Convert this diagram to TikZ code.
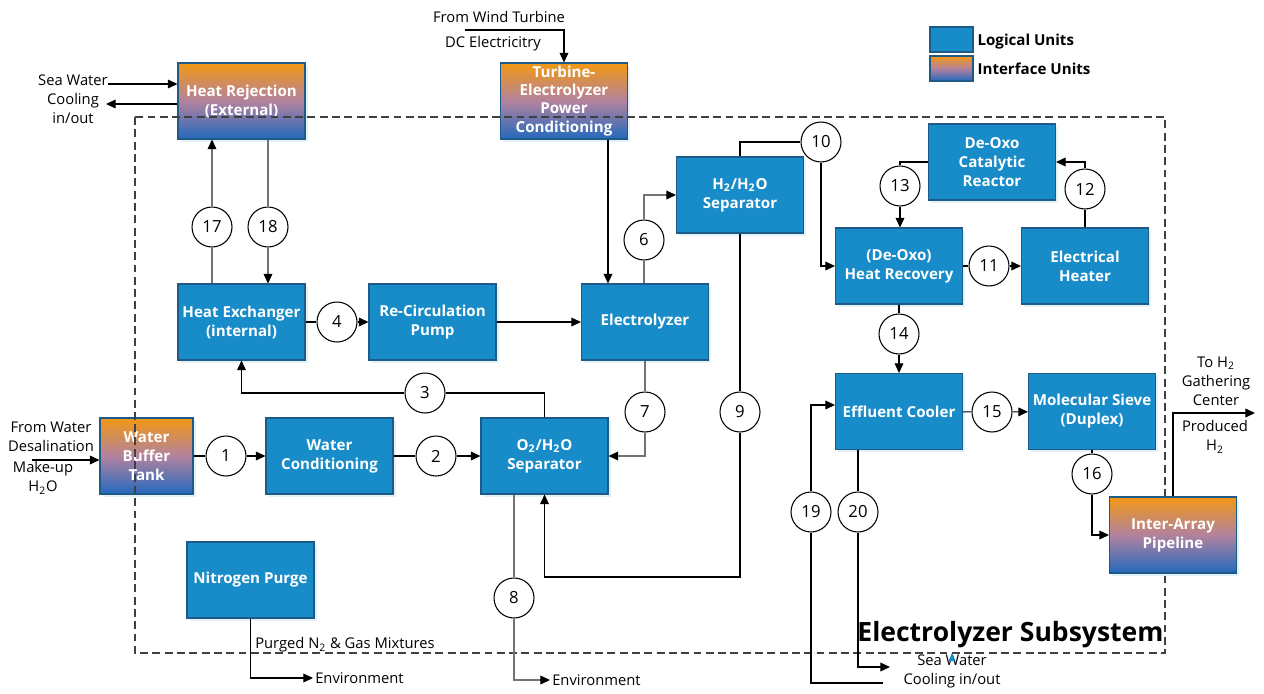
\documentclass[tikz,border=0pt]{standalone}
\usepackage{fontspec}
\setmainfont{Open Sans}
\usepackage{tikz}
\usetikzlibrary{calc, arrows.meta, positioning, shadows}
\usepackage{tkz-euclide}
\definecolor{unitblue}{RGB}{24,140,200}
\definecolor{unitedge}{RGB}{30,90,135}
\definecolor{ifaceorange}{RGB}{242,152,20}
\definecolor{ifacemauve}{RGB}{178,130,158}
\definecolor{ifaceblue}{RGB}{35,105,190}
\newcommand{\boxfont}{\fontsize{8.6}{10.8}\selectfont\bfseries}
\newcommand{\lblfont}{\fontsize{8.4}{10.8}\selectfont}
\newcommand{\numfont}{\fontsize{9.5}{11}\selectfont}
\newcommand{\titlefont}{\fontsize{15.1}{18}\selectfont\bfseries}

\begin{document}
\begin{tikzpicture}[x=0.02cm, y=-0.02cm, line width=0.6pt,
  unit/.style={draw=unitedge, fill=unitblue, text=white, font=\boxfont, align=center,
    minimum width=2.54cm, minimum height=1.52cm, inner sep=1pt,
    general shadow={fill=unitblue!12, draw=none, shadow xshift=1.5pt, shadow yshift=-1.5pt}},
  iface/.style={unit, top color=ifaceorange, bottom color=ifaceblue, middle color=ifacemauve},
  num/.style={circle, draw, fill=white, minimum size=0.8cm, inner sep=0pt, font=\numfont},
  lbl/.style={font=\lblfont, align=center, inner sep=1pt},
  arr/.style={-{Triangle[length=5.5pt,width=5pt,color=black]}},
  gline/.style={draw=black!55},
  subsys/.style={draw=black!75, dash pattern=on 4.5pt off 2.5pt}]
\useasboundingbox (0,0) rectangle (1264,693);

% units
\node[iface] (hrej) at (241.5,101) {Heat Rejection\\(External)};
\node[iface, inner ysep=0pt, font=\fontsize{8.6}{10.3}\selectfont\bfseries] (pcond) at (564,101) {Turbine-\\Electrolyzer\\Power\\Conditioning};
\node[unit] (h2sep) at (740,195) {H\textsubscript{2}/H\textsubscript{2}O\\Separator};
\node[unit] (deoxo) at (992,162) {De-Oxo\\Catalytic\\Reactor};
\node[unit] (hx) at (241.5,322) {Heat Exchanger\\(internal)};
\node[unit] (pump) at (432.5,322) {Re-Circulation\\Pump};
\node[unit] (elec) at (645,322) {Electrolyzer};
\node[iface, minimum width=1.86cm] (buffer) at (146.5,456) {Water\\Buffer\\Tank};
\node[unit] (wcond) at (329.5,456) {Water\\Conditioning};
\node[unit] (o2sep) at (544.5,456) {O\textsubscript{2}/H\textsubscript{2}O\\Separator};
\node[unit] (hrec) at (899,266) {(De-Oxo)\\Heat Recovery};
\node[unit] (heater) at (1085,266) {Electrical\\Heater};
\node[unit] (cooler) at (899,411.5) {Effluent Cooler};
\node[unit] (sieve) at (1092,411.5) {Molecular Sieve\\(Duplex)};
\node[unit] (n2) at (250.5,580) {Nitrogen Purge};

\draw[subsys] (135,117) rectangle (1165,653);
\node[iface] (pipe) at (1173,535) {Inter-Array\\Pipeline};
\node[font=\titlefont, anchor=base east, inner sep=0pt] (title) at (1164,641) {Electrolyzer Subsystem};

% legend
\node[draw=unitedge, fill=unitblue, minimum width=.86cm, minimum height=.5cm, inner sep=0pt] (keyunit) at (951.5,39.5) {};
\node[draw=unitedge, top color=ifaceorange, bottom color=ifaceblue, middle color=ifacemauve, minimum width=.86cm, minimum height=.5cm, inner sep=0pt] (keyiface) at (951.5,68.5) {};
\node[right=1pt of keyunit, yshift=-0.05cm, font=\boxfont, inner sep=1pt] {Logical Units};
\node[right=1pt of keyiface, font=\boxfont, inner sep=1pt] {Interface Units};

% stream numbers
\node[num] (c1) at (226,456) {1};
\node[num] (c2) at (436,456) {2};
\node[num] (c3) at (425,393) {3};
\node[num] (c4) at (337,322) {4};
\node[num] (c6) at (644,240) {6};
\node[num] (c7) at (645,412) {7};
\node[num] (c8) at (514,598) {8};
\node[num] (c9) at (740,412) {9};
\node[num] (c10) at (821,142) {10};
\node[num] (c11) at (989,266) {11};
\node[num] (c12) at (1085,189) {12};
\node[num] (c13) at (900,186) {13};
\node[num] (c14) at (899,334) {14};
\node[num] (c15) at (992,412) {15};
\node[num] (c16) at (1092,474) {16};
\node[num] (c17) at (212,227) {17};
\node[num] (c18) at (268,227) {18};
\node[num] (c19) at (811,512) {19};
\node[num] (c20) at (858,512) {20};

% outside labels
\node[lbl] (swhr) at (73,99) {Sea Water\\Cooling\\in/out};
\node[lbl] (wind) at (499,17) {From Wind Turbine};
\node[lbl] (dc) at (493,44) {DC Electricitry};
\node[lbl] (desal) at (51,437) {From Water\\Desalination};
\node[lbl] (makeup) at (43,478) {Make-up\\H\textsubscript{2}O};
\node[lbl, anchor=west] (env1) at (550,680) {Environment};
\node[lbl, anchor=west] (env2) at (313,678) {Environment};
\node[lbl, anchor=west] (purged) at (253,645) {Purged N\textsubscript{2} \& Gas Mixtures};
\node[lbl] (swec) at (952,671) {Sea Water\\Cooling in/out};
\node[lbl] (toh2) at (1216,381) {To H\textsubscript{2}\\Gathering\\Center};
\node[lbl] (prod) at (1215,437) {Produced\\H\textsubscript{2}};
\fill[unitblue] (948.5,661) -- (955.5,661) -- (952,653) -- cycle;

\tkzDefPoints{108/84/swIn, 106/104/swOut, 465/30/dcIn, 32/460/desIn, 740/577/ret9, 1255/413/h2Out, 883/683/sw19, 890/667/sw20}

% connectors
\draw[arr] (swIn) -- (swIn -| hrej.west);
\draw[arr] (hrej.west |- swOut) -- (swOut);
\draw[gline] (hx.north -| c17) -- (c17);
\draw[gline, arr] (c17) -- (c17 |- hrej.south);
\draw[gline] (hrej.south -| c18) -- (c18);
\draw[gline, arr] (c18) -- (c18 |- hx.north);
\draw (hx) -- (c4);
\draw[arr] (c4) -- (pump);
\draw[arr] (pump) -- (elec);
\draw[arr] (dcIn) -| (pcond.north);
\draw[arr] ([xshift=.88cm]pcond.south) -- ([xshift=.88cm]pcond.south |- elec.north);
\draw[gline] (elec.north -| c6) -- (c6);
\draw[gline, arr] (c6) |- (h2sep.west);
\draw (h2sep.north) |- (c10);
\draw[arr] (c10) |- (hrec.west);
\draw (h2sep.south) -- (c9);
\draw[arr] (c9) -- (ret9) -| (o2sep.south);
\draw[gline] (elec.south -| c7) -- (c7);
\draw[gline, arr] (c7) |- (o2sep.east);
\draw (o2sep.north) |- (c3);
\draw[arr] (c3) -| (hx.south);
\draw[arr] (desIn) -- (desIn -| buffer.west);
\draw (buffer) -- (c1);
\draw[arr] (c1) -- (wcond);
\draw (wcond) -- (c2);
\draw[arr] (c2) -- (o2sep);
\draw[gline] (o2sep.south -| c8) -- (c8);
\draw[gline, arr] (c8) |- (env1.west);
\draw[arr] (n2.south) |- (env2.west);
\draw (deoxo.west) -| (c13);
\draw[arr] (c13) -- (c13 |- hrec.north);
\draw (hrec) -- (c11);
\draw[arr] (c11) -- (heater);
\draw (heater.north -| c12) -- (c12);
\draw[arr] (c12) |- (deoxo.east);
\draw (hrec) -- (c14);
\draw[arr] (c14) -- (cooler);
\draw (cooler) -- (c15);
\draw[arr] (c15) -- (sieve);
\draw (sieve) -- (c16);
\draw[arr] (c16) |- (pipe.west);
\draw[arr] (pipe.north) |- (h2Out);
\draw (sw19) -| (c19);
\draw[arr] (c19) |- ([yshift=.13cm]cooler.west);
\draw (cooler.south -| c20) -- (c20);
\draw[arr] (c20) |- (sw20);

\end{tikzpicture}
\end{document}
